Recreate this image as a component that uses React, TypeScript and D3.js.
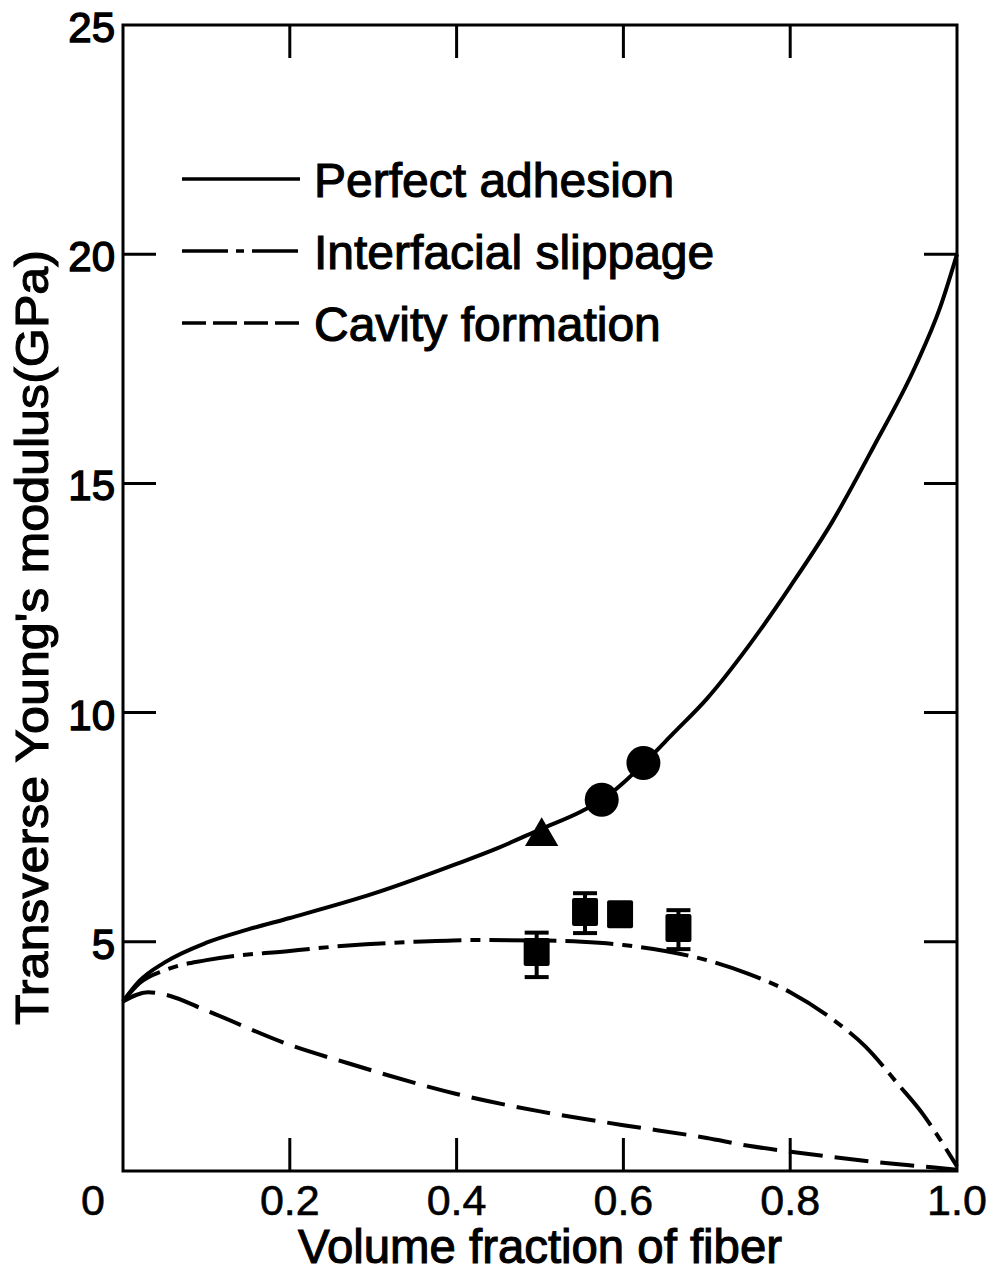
import React from "react";
import * as d3 from "d3";

const perfectX = [0, 0.02, 0.05, 0.1, 0.15, 0.2, 0.3, 0.4, 0.45, 0.5, 0.55, 0.575, 0.6, 0.625, 0.66, 0.7, 0.75, 0.8, 0.85, 0.9, 0.95, 0.98, 1.0];
const perfectY = [3.7, 4.15, 4.55, 4.98, 5.27, 5.52, 6.05, 6.7, 7.05, 7.45, 7.85, 8.1, 8.47, 8.9, 9.55, 10.3, 11.45, 12.75, 14.15, 15.8, 17.55, 18.85, 20.0];

const slipX = [0, 0.02, 0.05, 0.1, 0.2, 0.27, 0.35, 0.43, 0.5, 0.55, 0.6, 0.65, 0.7, 0.75, 0.8, 0.85, 0.89, 0.93, 0.96, 0.98, 1.0];
const slipY = [3.7, 4.1, 4.38, 4.6, 4.8, 4.92, 5.0, 5.04, 5.03, 5.0, 4.93, 4.8, 4.6, 4.3, 3.9, 3.32, 2.72, 1.88, 1.22, 0.68, 0.1];

const cavityX = [0, 0.03, 0.05, 0.1, 0.2, 0.27, 0.4, 0.5, 0.6, 0.7, 0.75, 0.81, 0.9, 0.94, 0.97, 1.0];
const cavityY = [3.7, 3.9, 3.85, 3.5, 2.75, 2.35, 1.68, 1.3, 1.0, 0.72, 0.55, 0.4, 0.2, 0.13, 0.08, 0.03];

const triangleX = [0.502];
const triangleY = [7.3];
const circleX = [0.574, 0.624];
const circleY = [8.1, 8.9];
const squareX = [0.496, 0.554, 0.596, 0.666];
const squareY = [4.78, 5.65, 5.6, 5.3];
const squareLo = [4.23, 5.19, null, 4.84];
const squareHi = [5.2, 6.06, null, 5.69];

const xTicks = [0.2, 0.4, 0.6, 0.8];
const xTickLabels = ["0", "0.2", "0.4", "0.6", "0.8", "1.0"];
const xTickLabelValues = [0, 0.2, 0.4, 0.6, 0.8, 1.0];
const yTicks = [5, 10, 15, 20];
const yTickLabels = ["5", "10", "15", "20", "25"];
const yTickLabelValues = [5, 10, 15, 20, 25];

const legendNames = ["Perfect adhesion", "Interfacial slippage", "Cavity formation"];

const FONT = "'Liberation Sans', Arial, Helvetica, sans-serif";

export default function App() {
  const W = 994, H = 1278;
  const x = d3.scaleLinear().domain([0, 1]).range([123, 957]);
  const y = d3.scaleLinear().domain([0, 25]).range([1171, 25]);
  const tickLen = 33;

  const mk = (xs: number[], ys: number[]) =>
    d3.line<number>().x((_, i) => x(xs[i])).y((_, i) => y(ys[i])).curve(d3.curveMonotoneX)(xs) || "";

  const triPath = d3.symbol().type(d3.symbolTriangle).size(480)() || "";

  const textStyle = { fontFamily: FONT, fill: "#000", stroke: "#000", strokeWidth: 1.1 } as const;

  const legendDash = [null, "46 8 8 8", "24 7"];

  return (
    <svg width={W} height={H} style={{ position: "absolute", left: 0, top: 0, background: "#fff" }}>
      <rect x={0} y={0} width={W} height={H} fill="#fff" />
      {/* frame */}
      <rect x={x(0)} y={y(25)} width={x(1) - x(0)} height={y(0) - y(25)} fill="none" stroke="#000" strokeWidth={3} />
      {xTicks.map((t) => (
        <g key={"xt" + t}>
          <line x1={x(t)} x2={x(t)} y1={y(0)} y2={y(0) - tickLen} stroke="#000" strokeWidth={3} />
          <line x1={x(t)} x2={x(t)} y1={y(25)} y2={y(25) + tickLen} stroke="#000" strokeWidth={3} />
        </g>
      ))}
      {yTicks.map((t) => (
        <g key={"yt" + t}>
          <line x1={x(0)} x2={x(0) + tickLen} y1={y(t)} y2={y(t)} stroke="#000" strokeWidth={3} />
          <line x1={x(1)} x2={x(1) - tickLen} y1={y(t)} y2={y(t)} stroke="#000" strokeWidth={3} />
        </g>
      ))}
      {xTickLabels.map((l, i) => (
        <text key={"xl" + l} x={xTickLabelValues[i] === 0 ? x(0) - 30 : x(xTickLabelValues[i])} y={1215} textAnchor="middle" fontSize={43} style={{ ...textStyle, strokeWidth: 0.6 }}>
          {l}
        </text>
      ))}
      {yTickLabels.map((l, i) => (
        <text key={"yl" + l} x={115} y={y(yTickLabelValues[i]) + 17} textAnchor="end" fontSize={42} style={{ ...textStyle, strokeWidth: 1.4 }}>
          {l}
        </text>
      ))}
      <text x={298} y={1263} fontSize={48} textLength={484} lengthAdjust="spacingAndGlyphs" style={textStyle}>
        Volume fraction of fiber
      </text>
      <text transform={`translate(48,${1025}) rotate(-90)`} x={0} y={0} fontSize={47} textLength={775} lengthAdjust="spacingAndGlyphs" style={textStyle}>
        Transverse Young's modulus(GPa)
      </text>
      <path d={mk(perfectX, perfectY)} fill="none" stroke="#000" strokeWidth={4} />
      <path d={mk(slipX, slipY)} fill="none" stroke="#000" strokeWidth={4} strokeDasharray="48 9 10 9" />
      <path d={mk(cavityX, cavityY)} fill="none" stroke="#000" strokeWidth={4} strokeDasharray="34 12" />
      {triangleX.map((v, i) => (
        <path key={"tr" + i} d={triPath} transform={`translate(${x(v)},${y(triangleY[i])})`} fill="#000" />
      ))}
      {circleX.map((v, i) => (
        <circle key={"c" + i} cx={x(v)} cy={y(circleY[i])} r={17} fill="#000" />
      ))}
      {squareX.map((v, i) => {
        const cx = x(v), cy = y(squareY[i]);
        const lo = squareLo[i], hi = squareHi[i];
        return (
          <g key={"s" + i}>
            {lo != null && hi != null && (
              <g stroke="#000" strokeWidth={4}>
                <line x1={cx} x2={cx} y1={y(lo)} y2={y(hi)} />
                <line x1={cx - 12} x2={cx + 12} y1={y(lo)} y2={y(lo)} />
                <line x1={cx - 12} x2={cx + 12} y1={y(hi)} y2={y(hi)} />
              </g>
            )}
            <rect x={cx - 13} y={cy - 14} width={26} height={28} rx={2} fill="#000" />
          </g>
        );
      })}
      {legendNames.map((n, i) => {
        const base = 197 + i * 72;
        return (
          <g key={"lg" + i}>
            <line x1={182} x2={300} y1={base - 18} y2={base - 18} stroke="#000" strokeWidth={3.5}
              strokeDasharray={legendDash[i] ?? undefined} />
            <text x={314} y={base} fontSize={48} style={textStyle}>
              {n}
            </text>
          </g>
        );
      })}
    </svg>
  );
}
